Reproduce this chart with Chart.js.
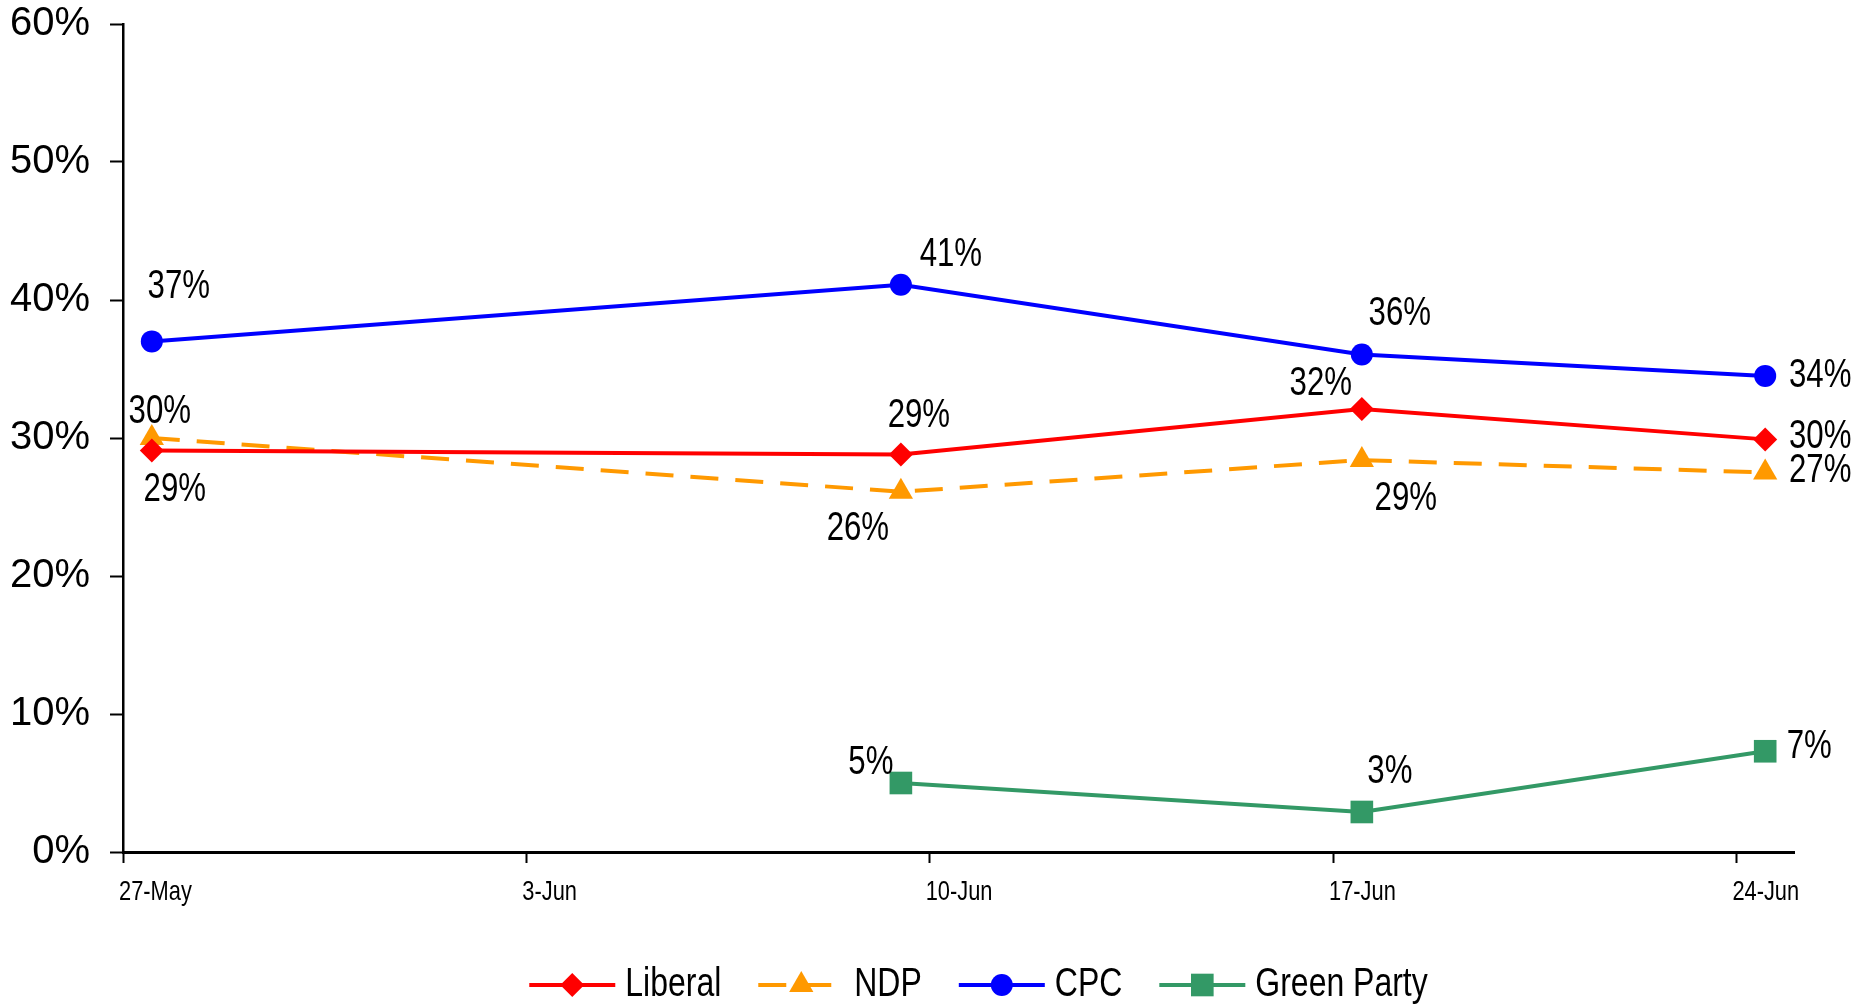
<!DOCTYPE html>
<html lang="en">
<head>
  <meta charset="UTF-8" />
  <title>Party support by week</title>
  <script src="https://cdn.jsdelivr.net/npm/chart.js"></script>
  <style>
    html, body { margin: 0; padding: 0; background: #fff; }
    .wrap { width: 1856px; height: 1004px; }
  </style>
</head>
<body>
  <div class="wrap"><canvas id="pollChart"></canvas></div>

  <script>
    // days after 27-May for each poll
    const pollDays = [0.5, 13.5, 21.5, 28.5]

    const liberal = [29.1, 28.8, 32.1, 29.9]
    const ndp = [30.0, 26.1, 28.4, 27.5]
    const cpc = [37.0, 41.1, 36.05, 34.5]
    const green = [null, 5.0, 2.9, 7.3]

    const liberalLabels = ['29%', '29%', '32%', '30%']
    const ndpLabels = ['30%', '26%', '29%', '27%']
    const cpcLabels = ['37%', '41%', '36%', '34%']
    const greenLabels = ['', '5%', '3%', '7%']

    const tickDays = [0, 7, 14, 21, 28]
    const tickLabels = ['27-May', '3-Jun', '10-Jun', '17-Jun', '24-Jun']

    const FONT = '"Liberation Sans", Arial, sans-serif'
    const SQUEEZE = 0.78

    const toPoints = vals => pollDays.map((d, i) => ({ x: d, y: vals[i] }))

    // the reference text is tall and narrow, so squash it sideways
    function squeezedText(ctx, text, x, y, align) {
      ctx.save()
      ctx.translate(x, y)
      ctx.scale(SQUEEZE, 1)
      ctx.textAlign = align
      ctx.fillText(text, 0, 0)
      ctx.restore()
    }

    // value labels next to each marker
    const pointLabels = {
      id: 'pointLabels',
      afterDatasetsDraw(chart) {
        const ctx = chart.ctx
        ctx.save()
        ctx.font = '40px ' + FONT
        ctx.fillStyle = '#000'
        ctx.textBaseline = 'middle'
        chart.data.datasets.forEach((ds, di) => {
          const meta = chart.getDatasetMeta(di)
          meta.data.forEach((pt, i) => {
            const text = ds.valueLabels[i]
            if (!text || ds.data[i].y == null) return
            const [dx, dy] = ds.labelOffsets[i]
            squeezedText(ctx, text, pt.x + dx, pt.y + dy, 'center')
          })
        })
        ctx.restore()
      }
    }

    // date labels under the x axis
    const dateLabels = {
      id: 'dateLabels',
      afterDraw(chart) {
        const ctx = chart.ctx
        const xs = chart.scales.x
        ctx.save()
        ctx.font = '28px ' + FONT
        ctx.fillStyle = '#000'
        ctx.textBaseline = 'middle'
        tickDays.forEach((d, i) => {
          squeezedText(ctx, tickLabels[i], xs.getPixelForValue(d) - 4, 892, 'left')
        })
        ctx.restore()
      }
    }

    // line + marker legend at the bottom
    const lineLegend = {
      id: 'lineLegend',
      afterDraw(chart) {
        const ctx = chart.ctx
        const lineLen = 86, gapText = 10, gapItem = 37, y = 985
        ctx.save()
        ctx.font = '41px ' + FONT
        ctx.textBaseline = 'middle'
        const items = chart.data.datasets.map(ds => ({ ds, w: ctx.measureText(ds.label).width * SQUEEZE }))
        const total = items.reduce((s, it) => s + lineLen + gapText + it.w, 0) + gapItem * (items.length - 1)
        let x = (chart.chartArea.left + chart.chartArea.right) / 2 + 20 - total / 2
        items.forEach(({ ds, w }) => {
          ctx.strokeStyle = ds.borderColor
          ctx.lineWidth = ds.borderWidth
          ctx.setLineDash(ds.borderDash || [])
          ctx.beginPath()
          ctx.moveTo(x, y)
          ctx.lineTo(x + lineLen, y)
          ctx.stroke()
          ctx.setLineDash([])
          ctx.fillStyle = ds.pointBackgroundColor
          Chart.helpers.drawPoint(ctx, { pointStyle: ds.pointStyle, radius: ds.pointRadius, rotation: 0, borderWidth: 0 }, x + lineLen / 2, y)
          ctx.fillStyle = '#000'
          squeezedText(ctx, ds.label, x + lineLen + gapText, y, 'left')
          x += lineLen + gapText + w + gapItem
        })
        ctx.restore()
      }
    }

    new Chart(document.getElementById('pollChart'), {
      type: 'line',
      data: {
        datasets: [
          {
            label: 'Liberal', data: toPoints(liberal), valueLabels: liberalLabels,
            labelOffsets: [[23, 40], [18, -39], [-41, -25], [55, -2]],
            borderColor: '#ff0000', pointBackgroundColor: '#ff0000', pointBorderWidth: 0,
            borderWidth: 4, pointStyle: 'rectRot', pointRadius: 12, order: 2
          },
          {
            label: 'NDP', data: toPoints(ndp), valueLabels: ndpLabels,
            labelOffsets: [[8, -26], [-43, 37], [44, 39], [55, -2]],
            borderColor: '#ff9900', pointBackgroundColor: '#ff9900', pointBorderWidth: 0,
            borderWidth: 4, borderDash: [28, 17], pointStyle: 'triangle', pointRadius: 14, order: 3
          },
          {
            label: 'CPC', data: toPoints(cpc), valueLabels: cpcLabels,
            labelOffsets: [[27, -54], [50, -30], [38, -41], [55, 0]],
            borderColor: '#0000ff', pointBackgroundColor: '#0000ff', pointBorderWidth: 0,
            borderWidth: 4, pointStyle: 'circle', pointRadius: 11, order: 1
          },
          {
            label: 'Green Party', data: toPoints(green), valueLabels: greenLabels,
            labelOffsets: [[0, 0], [-30, -20], [28, -40], [44, -4]],
            borderColor: '#339966', pointBackgroundColor: '#339966', pointBorderWidth: 0,
            borderWidth: 4, pointStyle: 'rect', pointRadius: 16, order: 4
          }
        ]
      },
      options: {
        responsive: true,
        maintainAspectRatio: false,
        animation: false,
        layout: { padding: { top: 24, right: 62, left: 0, bottom: 0 } },
        elements: { line: { tension: 0 } },
        plugins: {
          legend: { display: false },
          tooltip: { enabled: false }
        },
        scales: {
          x: {
            type: 'linear',
            min: 0,
            max: 29,
            afterBuildTicks: scale => { scale.ticks = tickDays.map(v => ({ value: v })) },
            afterFit: scale => { scale.height = 152 },
            ticks: { display: false },
            grid: { drawOnChartArea: false, drawTicks: true, tickLength: 11, tickColor: '#000', tickWidth: 2 },
            border: { color: '#000', width: 3 }
          },
          y: {
            min: 0,
            max: 60,
            afterFit: scale => {
              scale.width = 123
              scale.paddingTop = 0
              scale.paddingBottom = 0
            },
            ticks: {
              stepSize: 10,
              padding: 20,
              color: '#000',
              font: { family: FONT, size: 40 },
              callback: v => v + '%'
            },
            grid: { drawOnChartArea: false, drawTicks: true, tickLength: 13, tickColor: '#000', tickWidth: 2 },
            border: { color: '#000', width: 2.5 }
          }
        }
      },
      plugins: [pointLabels, dateLabels, lineLegend]
    })
  </script>
</body>
</html>
